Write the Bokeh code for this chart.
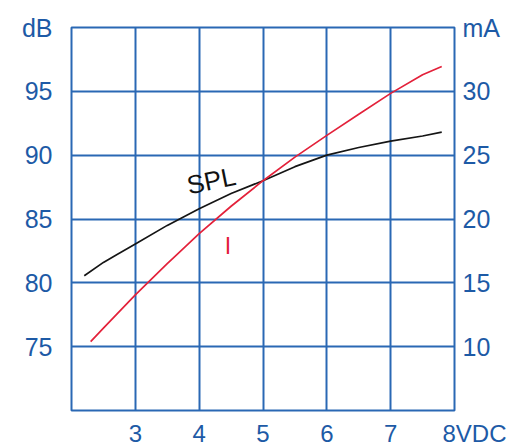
from bokeh.plotting import figure
from bokeh.models import Range1d, LinearAxis, FixedTicker
from bokeh.core.properties import value
from bokeh.embed import file_html
from bokeh.resources import INLINE

# Data
spl_volts = [2.2, 2.5, 3.0, 3.5, 4.0, 4.5, 5.0, 5.5, 6.0, 6.5, 7.0, 7.5, 7.8]
spl_db = [80.55, 81.6, 83.05, 84.5, 85.8, 87.0, 88.0, 89.1, 90.0, 90.6, 91.1, 91.5, 91.8]

cur_volts = [2.3, 2.5, 3.0, 3.5, 4.0, 4.5, 5.0, 5.5, 6.0, 6.5, 7.0, 7.5, 7.8]
cur_ma = [10.4, 11.45, 14.06, 16.5, 18.85, 21.0, 23.0, 24.85, 26.55, 28.2, 29.84, 31.3, 31.95]

x_ticks = [3, 4, 5, 6, 7, 8]
db_ticks = [75, 80, 85, 90, 95, 100]
ma_ticks = [10, 15, 20, 25, 30, 35]

BLUE_TXT = "#1d5aa6"
BLUE_GRID = "#2a68b4"
RED = "#e3213a"
FONT = "Liberation Sans"

p = figure(frame_width=383, frame_height=383, output_backend="svg", toolbar_location=None,
           x_range=Range1d(2, 8), y_range=Range1d(70, 100),
           x_axis_location=None, y_axis_location=None,
           min_border_left=71, min_border_right=58, min_border_top=27, min_border_bottom=28)
p.extra_y_ranges = {"ma": Range1d(5, 35)}

p.outline_line_color = BLUE_GRID
p.outline_line_width = 2
p.outline_line_alpha = 1
p.background_fill_color = "white"
p.border_fill_color = "white"

def style(ax, standoff, size="25px"):
    ax.axis_line_color = None
    ax.major_tick_line_color = None
    ax.minor_tick_line_color = None
    ax.major_label_text_font = FONT
    ax.major_label_text_font_size = size
    ax.major_label_text_color = BLUE_TXT
    ax.major_label_standoff = standoff

left = LinearAxis(ticker=FixedTicker(ticks=db_ticks))
left.major_label_overrides = {100: "dB"}
style(left, 13)
p.add_layout(left, "left")

right = LinearAxis(y_range_name="ma", ticker=FixedTicker(ticks=ma_ticks))
right.major_label_overrides = {35: "mA"}
style(right, 2)
p.add_layout(right, "right")

bottom = LinearAxis(ticker=FixedTicker(ticks=x_ticks))
bottom.major_label_overrides = {8: "\u00a0" * 6 + "8VDC"}
style(bottom, 3, "24px")
p.add_layout(bottom, "below")

p.xgrid.ticker = FixedTicker(ticks=[3, 4, 5, 6, 7])
p.ygrid.ticker = FixedTicker(ticks=[75, 80, 85, 90, 95])
for g in (p.xgrid[0], p.ygrid[0]):
    g.grid_line_color = BLUE_GRID
    g.grid_line_width = 2
    g.grid_line_alpha = 1

p.line(spl_volts, spl_db, line_color="#151515", line_width=1.7)
p.line(cur_volts, cur_ma, y_range_name="ma", line_color=RED, line_width=1.7)

p.text(x=[4.19], y=[88.0], text=["SPL"], angle=0.2, text_align="center",
       text_baseline="middle", text_font=value(FONT), text_font_size="26px",
       text_color="#111111")
p.text(x=[4.45], y=[82.85], text=["I"], text_align="center",
       text_baseline="middle", text_font=value(FONT), text_font_size="23px",
       text_color=RED)

open("out.html", "w").write(file_html(p, INLINE))
